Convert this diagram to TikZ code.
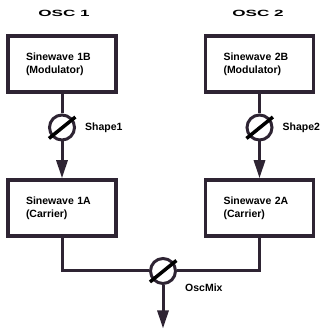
\documentclass[tikz,border=0pt]{standalone}
\usepackage{fontspec}
\setmainfont{Liberation Sans}
\usepackage{graphicx}
\usetikzlibrary{arrows.meta,calc,positioning}
\definecolor{oscline}{HTML}{2E2433}

\begin{document}
\begin{tikzpicture}[x=1pt,y=1pt,
    osc/.style={draw=oscline, line width=3.5pt, minimum width=108pt, minimum height=56pt,
      text width=72pt, inner xsep=0pt, align=left, font=\bfseries\fontsize{10.5}{13}\selectfont},
    knob/.style={circle, draw=oscline, line width=3pt, minimum size=25pt, inner sep=0pt},
    tag/.style={font=\bfseries\fontsize{10.5}{12}\selectfont, inner sep=0pt},
    title/.style={font=\bfseries\fontsize{9}{10}\selectfont, inner sep=0pt},
    link/.style={draw=oscline, line width=3pt},
    tip/.style={-{Triangle[length=18pt,width=11pt]}},
    slash/.style={line width=3.5pt, black}]
    \useasboundingbox (0,0) rectangle (323,329);
    % oscillator titles
    \node[title] (osc1) at (64,316) {\scalebox{1.9}[1]{OSC 1}};
    \node[title] (osc2) at (258,316) {\scalebox{1.9}[1]{OSC 2}};
    % sine boxes
    \node[osc] (mod1) at (62,265) {Sinewave 1B\\(Modulator)};
    \node[osc] (mod2) at (259.5,265) {Sinewave 2B\\(Modulator)};
    \node[osc] (car1) at (62,121) {Sinewave 1A\\(Carrier)};
    \node[osc] (car2) at (259.5,121) {Sinewave 2A\\(Carrier)};
    % knobs
    \node[knob] (shape1) at (62,201.5) {};
    \node[knob] (shape2) at (259.5,201.5) {};
    \node[knob] (mix) at (163,58) {};
    \node[tag, right=9pt of shape1] (shape1lbl) {Shape1};
    \node[tag, right=9pt of shape2] (shape2lbl) {Shape2};
    \node[tag, anchor=west] (mixlbl) at ([xshift=22pt,yshift=-17pt]mix.center) {OscMix};
    \coordinate (out) at (163,0.5);
    % connections
    \draw[link] (mod1) -- (shape1);
    \draw[link] (mod2) -- (shape2);
    \draw[link, tip] (shape1) -- (car1);
    \draw[link, tip] (shape2) -- (car2);
    \draw[link] (car1.south) |- (mix.west);
    \draw[link] (car2.south) |- (mix.east);
    \draw[link, tip] (mix) -- (out);
    \foreach \k in {shape1,shape2,mix}
      \draw[slash] ($(\k)+(220:17pt)$) -- ($(\k)+(38:17pt)$);
\end{tikzpicture}
\end{document}
